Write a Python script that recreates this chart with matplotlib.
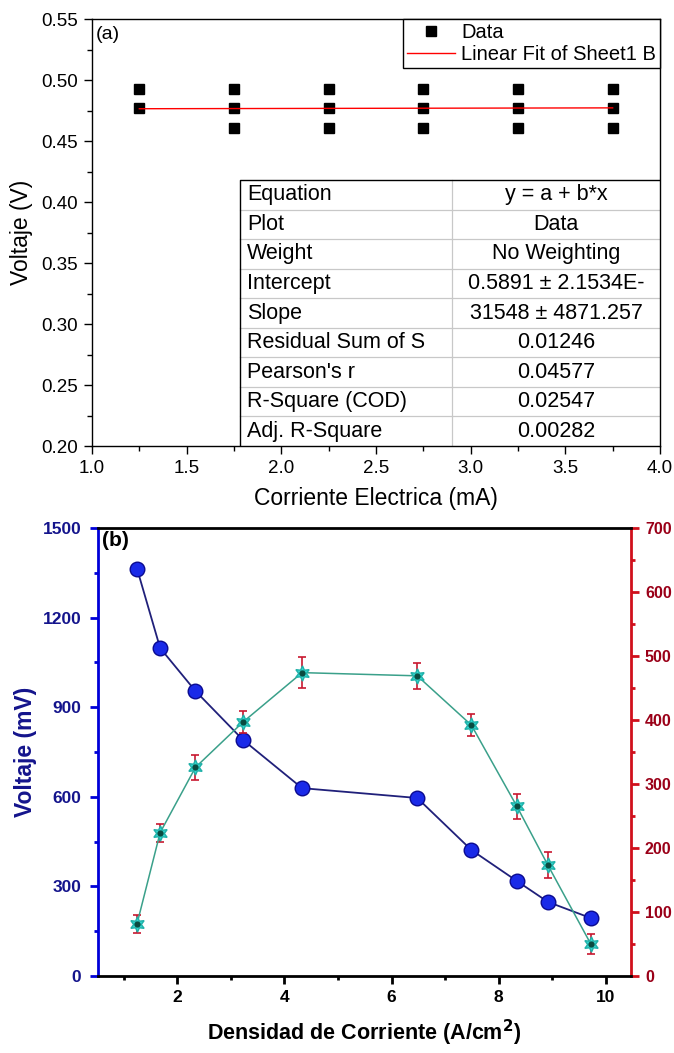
import numpy as np
import matplotlib
matplotlib.use('Agg')
import matplotlib.pyplot as plt
from matplotlib.lines import Line2D

plt.rcParams['font.family'] = ['Liberation Sans', 'DejaVu Sans']

# (a) datos medidos
corriente = [1.25, 1.25,
             1.75, 1.75, 1.75,
             2.25, 2.25, 2.25,
             2.75, 2.75, 2.75,
             3.25, 3.25, 3.25,
             3.75, 3.75, 3.75]
voltaje = [0.493, 0.477,
           0.493, 0.477, 0.461,
           0.493, 0.477, 0.461,
           0.493, 0.477, 0.461,
           0.493, 0.477, 0.461,
           0.493, 0.477, 0.461]
fit_x = [1.25, 3.75]
fit_y = [0.4765, 0.4772]

tabla_nombres = ['Equation', 'Plot', 'Weight', 'Intercept', 'Slope',
                 'Residual Sum of S', "Pearson's r", 'R-Square (COD)',
                 'Adj. R-Square']
tabla_valores = ['y = a + b*x', 'Data', 'No Weighting',
                 '0.5891 \u00b1 2.1534E-', '31548 \u00b1 4871.257',
                 '0.01246', '0.04577', '0.02547', '0.00282']

# (b) densidad de corriente
densidad = [1.25, 1.68, 2.34, 3.23, 4.33, 6.48, 7.49, 8.34, 8.92, 9.72]
volt_mv = [1363, 1098, 954, 790, 629, 596, 422, 318, 248, 194]
potencia = [82, 224, 326, 397, 474, 469, 392, 265, 173, 50]
potencia_err = [14, 14, 20, 17, 24, 20, 17, 19, 20, 16]

fig = plt.figure(figsize=(6.74, 10.53), dpi=100)

# ---------------- panel (a) ----------------
ax1 = fig.add_axes([0.1365, 0.5764, 0.8427, 0.4055])
ax1.plot(corriente, voltaje, 's', color='black', ms=6.5, label='Data', zorder=3)
ax1.plot(fit_x, fit_y, '-', color='red', lw=1.0, label='Linear Fit of Sheet1 B', zorder=4)
ax1.set_xlim(1.0, 4.0)
ax1.set_ylim(0.20, 0.55)
ax1.set_xticks(np.arange(1.0, 4.01, 0.5))
ax1.set_xticks(np.arange(1.0, 4.01, 0.25), minor=True)
ax1.set_yticks(np.arange(0.20, 0.551, 0.05))
ax1.set_yticks(np.arange(0.20, 0.551, 0.025), minor=True)
ax1.xaxis.set_major_formatter(matplotlib.ticker.FormatStrFormatter('%.1f'))
ax1.yaxis.set_major_formatter(matplotlib.ticker.FormatStrFormatter('%.2f'))
ax1.tick_params(which='major', direction='out', length=6, width=1, labelsize=13.5, pad=4)
ax1.tick_params(which='minor', direction='out', length=3.5, width=1)
for s in ax1.spines.values():
    s.set_linewidth(1.0)
ax1.set_xlabel('Corriente Electrica (mA)', fontsize=16.5, labelpad=7)
ax1.set_ylabel('Voltaje (V)', fontsize=16.5, labelpad=6)
ax1.text(0.006, 0.965, '(a)', transform=ax1.transAxes, fontsize=14, va='center', ha='left')

leg = ax1.legend(loc='upper right', borderaxespad=0, fancybox=False, edgecolor='black',
                 framealpha=1, fontsize=14.5, handlelength=2.4, handletextpad=0.3,
                 borderpad=0.2, labelspacing=0.15)
leg.get_frame().set_linewidth(1.0)

# tabla de ajuste
t_left, t_div, t_top = 0.2606, 0.634, 0.623
fila = t_top / len(tabla_nombres)
for i, (nom, val) in enumerate(zip(tabla_nombres, tabla_valores)):
    yc = t_top - (i + 0.5) * fila
    ax1.text(t_left + 0.012, yc, nom, transform=ax1.transAxes, fontsize=15.5,
             va='center', ha='left')
    ax1.text((t_div + 1) / 2, yc, val, transform=ax1.transAxes, fontsize=15.5,
             va='center', ha='center')
    if i > 0:
        ax1.add_line(Line2D([t_left, 1], [t_top - i * fila] * 2, transform=ax1.transAxes,
                            color='#c8c8c8', lw=0.9))
ax1.add_line(Line2D([t_div, t_div], [0, t_top], transform=ax1.transAxes, color='#c8c8c8', lw=0.9))
ax1.add_line(Line2D([t_left, t_left, 1], [0, t_top, t_top], transform=ax1.transAxes,
                    color='black', lw=1.0))

# ---------------- panel (b) ----------------
azul = '#0000d8'
azul_txt = '#14148c'
rojo = '#d0101c'
rojo_txt = '#9a0018'

ax2 = fig.add_axes([0.1454, 0.0731, 0.7908, 0.4255])
ax3 = ax2.twinx()

ax2.plot(densidad, volt_mv, '-', color='#20207a', lw=1.3, zorder=2)
ax2.plot(densidad, volt_mv, 'o', color='#1a2ae8', mec='#0a0a90', mew=1.0, ms=10.5, zorder=3)

ax3.errorbar(densidad, potencia, yerr=potencia_err, fmt='none', ecolor='#c81830',
             elinewidth=1.2, capsize=3, capthick=1.2, zorder=2)
ax3.plot(densidad, potencia, '-', color='#3aa08a', lw=1.1, zorder=3)
ax3.plot(densidad, potencia, marker=(6, 1, 0), ls='none', color='#30d8d0', mec='#20b0a8',
         ms=11, zorder=4)
ax3.plot(densidad, potencia, 'o', ls='none', color='#0a4a40', ms=3.5, zorder=5)

ax2.set_xlim(0.52, 10.47)
ax2.set_ylim(0, 1500)
ax3.set_ylim(0, 700)
ax2.set_xticks([2, 4, 6, 8, 10])
ax2.set_xticks([1, 3, 5, 7, 9], minor=True)
ax2.set_yticks(np.arange(0, 1501, 300))
ax2.set_yticks(np.arange(0, 1501, 150), minor=True)
ax3.set_yticks(np.arange(0, 701, 100))
ax3.set_yticks(np.arange(0, 701, 50), minor=True)

for s in ax3.spines.values():
    s.set_linewidth(2.0)
ax3.spines['left'].set_color(azul)
ax3.spines['right'].set_color(rojo)
ax3.spines['top'].set_color('black')
ax3.spines['bottom'].set_color('black')
for s in ax2.spines.values():
    s.set_visible(False)

ax2.tick_params(axis='x', which='major', direction='out', length=6, width=2, labelsize=12.5,
                pad=4)
ax2.tick_params(axis='x', which='minor', direction='out', length=3, width=2)
ax2.tick_params(axis='y', which='major', direction='out', length=6, width=2, color=azul,
                labelcolor=azul_txt, labelsize=12.5, pad=6)
ax2.tick_params(axis='y', which='minor', direction='out', length=3, width=2, color=azul)
ax3.tick_params(axis='y', which='major', direction='out', length=6, width=2, color=rojo,
                labelcolor=rojo_txt, labelsize=11.5, pad=4)
ax3.tick_params(axis='y', which='minor', direction='out', length=3, width=2, color=rojo)
for lab in ax2.get_xticklabels() + ax2.get_yticklabels() + ax3.get_yticklabels():
    lab.set_fontweight('bold')

ax2.set_xlabel('Densidad de Corriente (A/cm$^\\mathbf{2}$)', fontsize=15.5, fontweight='bold',
               labelpad=9)
ax2.set_ylabel('Voltaje (mV)', fontsize=16.5, fontweight='bold', color=azul_txt, labelpad=4)
ax2.text(0.008, 0.972, '(b)', transform=ax2.transAxes, fontsize=15, fontweight='bold',
         va='center', ha='left')

fig.savefig('out.png', dpi=100)
